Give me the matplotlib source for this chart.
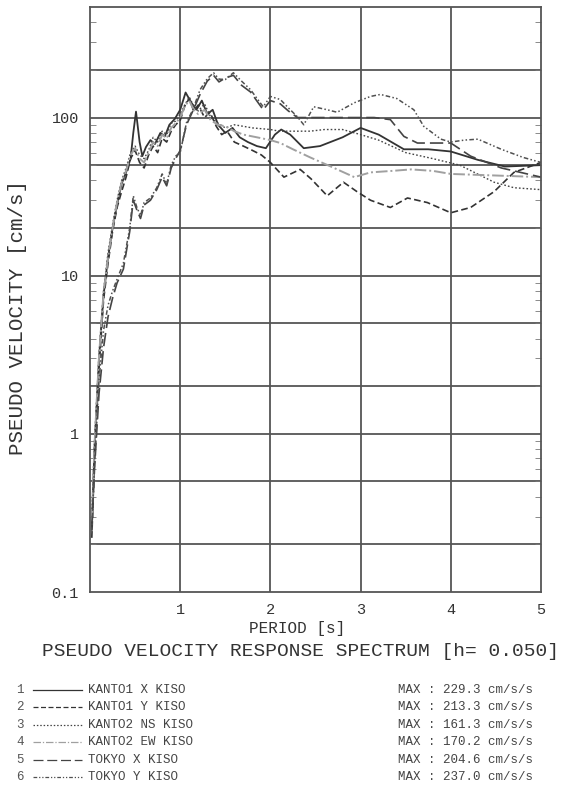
import matplotlib
matplotlib.use("Agg")
import matplotlib.pyplot as plt
from matplotlib.lines import Line2D
from matplotlib.ticker import FixedLocator, NullFormatter

# period [s] / pseudo velocity [cm/s]
t_kanto1_x = [0.02, 0.05, 0.1, 0.15, 0.2, 0.25, 0.3, 0.35, 0.4, 0.45, 0.48, 0.51, 0.55, 0.58,
              0.62, 0.67, 0.72, 0.78, 0.83, 0.88, 0.94, 1.0, 1.06, 1.12, 1.18, 1.24, 1.3, 1.36,
              1.42, 1.5, 1.58, 1.66, 1.75, 1.85, 1.95, 2.05, 2.12, 2.22, 2.37, 2.55, 2.8, 3.0,
              3.2, 3.48, 3.75, 4.0, 4.3, 4.6, 5.0]
v_kanto1_x = [0.25, 0.8, 3.0, 7.5, 13, 20, 28, 38, 45, 55, 80, 109, 70, 57,
              65, 72, 68, 80, 76, 90, 98, 112, 144, 125, 112, 128, 105, 112,
              90, 80, 86, 75, 70, 66, 64, 78, 84, 78, 64, 66, 75, 86,
              78, 63, 63, 61, 54, 49, 50]

t_kanto1_y = [0.02, 0.05, 0.1, 0.15, 0.2, 0.25, 0.3, 0.35, 0.4, 0.45, 0.5, 0.55, 0.6, 0.65,
              0.7, 0.75, 0.8, 0.85, 0.9, 0.95, 1.0, 1.05, 1.1, 1.15, 1.2, 1.27, 1.33, 1.4,
              1.46, 1.52, 1.6, 1.7, 1.8, 1.9, 2.0, 2.15, 2.33, 2.45, 2.63, 2.81, 2.96, 3.11,
              3.33, 3.52, 3.74, 4.0, 4.22, 4.48, 4.7, 5.0]
v_kanto1_y = [0.22, 0.7, 2.6, 7, 12, 19, 27, 34, 42, 55, 62, 52, 48, 58,
              66, 60, 74, 70, 82, 90, 96, 118, 132, 110, 120, 100, 108, 88,
              78, 82, 70, 66, 62, 58, 52, 42, 47, 41, 32, 39, 34, 30,
              27, 31, 29, 25, 27, 34, 45, 52]

t_kanto2_ns = [0.02, 0.05, 0.1, 0.15, 0.2, 0.25, 0.3, 0.35, 0.4, 0.45, 0.5, 0.55, 0.6, 0.65,
               0.7, 0.75, 0.8, 0.85, 0.9, 0.95, 1.0, 1.05, 1.1, 1.15, 1.2, 1.27, 1.34, 1.42,
               1.5, 1.6, 1.7, 1.8, 1.9, 2.0, 2.1, 2.25, 2.44, 2.6, 2.8, 3.0, 3.2, 3.5,
               3.8, 4.1, 4.48, 4.7, 5.0]
v_kanto2_ns = [0.3, 0.9, 3.2, 8, 14, 21, 30, 40, 48, 60, 66, 58, 55, 62,
               75, 70, 82, 78, 92, 95, 105, 120, 135, 118, 110, 122, 100, 92,
               86, 90, 88, 86, 85, 84, 82, 82, 82, 84, 84, 78, 72, 60,
               55, 50, 39, 36, 35]

t_kanto2_ew = [0.02, 0.05, 0.1, 0.15, 0.2, 0.25, 0.3, 0.35, 0.4, 0.45, 0.5, 0.55, 0.6, 0.65,
               0.7, 0.75, 0.8, 0.85, 0.9, 0.95, 1.0, 1.05, 1.1, 1.15, 1.2, 1.27, 1.34, 1.42,
               1.5, 1.6, 1.7, 1.8, 1.9, 2.0, 2.11, 2.25, 2.44, 2.67, 2.93, 3.11, 3.35, 3.56,
               3.8, 4.0, 4.5, 5.0]
v_kanto2_ew = [0.28, 0.85, 3.1, 7.8, 13, 20, 29, 39, 46, 58, 64, 55, 52, 60,
               70, 66, 78, 74, 86, 92, 100, 118, 128, 112, 105, 112, 96, 90,
               88, 82, 78, 76, 74, 72, 69, 63, 56, 49, 42, 45, 46, 47,
               46, 44, 43, 42]

t_tokyo_x = [0.02, 0.05, 0.1, 0.15, 0.2, 0.25, 0.3, 0.37, 0.44, 0.48, 0.52, 0.56, 0.6, 0.67,
             0.74, 0.8, 0.85, 0.9, 0.95, 1.0, 1.07, 1.14, 1.22, 1.3, 1.37, 1.43, 1.5, 1.59,
             1.68, 1.78, 1.86, 1.92, 2.0, 2.11, 2.2, 2.3, 2.45, 2.6, 2.8, 3.0, 3.15, 3.33,
             3.48, 3.63, 3.8, 4.0, 4.22, 4.56, 5.0]
v_tokyo_x = [0.25, 0.6, 1.8, 3.5, 5.5, 7.2, 9, 11, 19, 30, 26, 23, 28, 30,
             35, 42, 37, 48, 55, 62, 90, 110, 140, 170, 185, 168, 178, 185,
             160, 145, 125, 112, 128, 122, 110, 100, 100, 100, 100, 100, 100, 97,
             76, 69, 69, 69, 57, 48, 42]

t_tokyo_y = [0.02, 0.05, 0.1, 0.15, 0.2, 0.25, 0.3, 0.37, 0.44, 0.48, 0.52, 0.56, 0.6, 0.67,
             0.74, 0.8, 0.85, 0.9, 0.95, 1.0, 1.07, 1.14, 1.22, 1.3, 1.37, 1.43, 1.5, 1.59,
             1.68, 1.78, 1.86, 1.92, 2.0, 2.11, 2.2, 2.3, 2.37, 2.48, 2.63, 2.74, 2.93, 3.11,
             3.22, 3.4, 3.59, 3.7, 3.89, 4.0, 4.15, 4.3, 4.56, 4.8, 5.0]
v_tokyo_y = [0.24, 0.65, 2.2, 4.5, 6.5, 8, 9.5, 12, 20, 32, 27, 24, 29, 31,
             36, 44, 38, 50, 57, 60, 93, 112, 150, 176, 192, 175, 174, 192,
             170, 150, 130, 117, 136, 130, 115, 101, 90, 117, 112, 108, 124, 136,
             140, 132, 112, 88, 73, 70, 72, 73, 63, 56, 52]

labels = ["KANTO1 X KISO", "KANTO1 Y KISO", "KANTO2 NS KISO",
          "KANTO2 EW KISO", "TOKYO X KISO", "TOKYO Y KISO"]
max_values = [229.3, 213.3, 161.3, 170.2, 204.6, 237.0]

x_ticks = [1, 2, 3, 4, 5]
y_ticks = [0.1, 1, 10, 100]
y_grid = [0.2, 0.5, 1, 2, 5, 10, 20, 50, 100, 200]

series = [
    (t_kanto1_x, v_kanto1_x),
    (t_kanto1_y, v_kanto1_y),
    (t_kanto2_ns, v_kanto2_ns),
    (t_kanto2_ew, v_kanto2_ew),
    (t_tokyo_x, v_tokyo_x),
    (t_tokyo_y, v_tokyo_y),
]
styles = [
    dict(color="#333333", lw=1.3, dashes=()),
    dict(color="#333333", lw=1.2, dashes=(4, 2)),
    dict(color="#444444", lw=1.0, dashes=(1.2, 1.5)),
    dict(color="#a0a0a0", lw=1.4, dashes=(6, 1.5, 1, 1.5)),
    dict(color="#444444", lw=1.2, dashes=(8, 3)),
    dict(color="#505050", lw=1.1, dashes=(3, 1.5, 1, 1.5, 1, 1.5)),
]

FONT = "Liberation Mono"
TXT = "#333333"
W, H = 562, 787

fig = plt.figure(figsize=(W / 100, H / 100), dpi=100)
fig.patch.set_facecolor("white")
ax = fig.add_axes([90 / W, 1 - 592 / H, 451 / W, 585 / H])

for (t, v), st in zip(series, styles):
    ax.plot(t, v, color=st["color"], lw=st["lw"], dashes=st["dashes"])

ax.set_yscale("log")
ax.set_xlim(0, 5)
ax.set_ylim(0.1, 500)

for yv in y_grid:
    ax.axhline(yv, color="#555555", lw=1.3, zorder=0)
for xv in x_ticks[:-1]:
    ax.axvline(xv, color="#555555", lw=1.3, zorder=0)

ax.set_xticks(x_ticks)
ax.set_xticklabels([str(x) for x in x_ticks])
ax.set_yticks(y_ticks)
ax.set_yticklabels(["0.1", "1", "10", "100"])
minor = [m * 10.0 ** e for e in range(-1, 3) for m in range(2, 10)]
ax.yaxis.set_minor_locator(FixedLocator([m for m in minor if m < 500]))
ax.yaxis.set_minor_formatter(NullFormatter())
ax.tick_params(axis="both", which="major", length=0, labelsize=11,
               labelcolor=TXT, pad=8)
ax.tick_params(axis="y", which="minor", direction="in", length=4,
               width=0.6, color="#777777", left=True, right=True)
for lab in ax.get_xticklabels() + ax.get_yticklabels():
    lab.set_fontfamily(FONT)

for sp in ax.spines.values():
    sp.set_color("#555555")
    sp.set_linewidth(1.3)

ax.set_ylabel("PSEUDO VELOCITY [cm/s]", fontsize=15, family=FONT, color=TXT)
ax.yaxis.set_label_coords(-0.14, 0.47)

fig.text(297 / W, 1 - 628 / H, "PERIOD [s]", ha="center", va="center",
         fontsize=11.5, family=FONT, color=TXT)
fig.text(42 / W, 1 - 652 / H, "PSEUDO VELOCITY RESPONSE SPECTRUM [h= 0.050]",
         ha="left", va="center", fontsize=14, family=FONT, color=TXT)

row_y = [690 + 17.4 * i for i in range(6)]
for i, (lab, mx, st) in enumerate(zip(labels, max_values, styles)):
    y = 1 - row_y[i] / H
    fig.text(20 / W, y, str(i + 1), ha="center", va="center",
             fontsize=9, family=FONT, color="#555555")
    fig.add_artist(Line2D([33 / W, 82 / W], [y, y], color=st["color"],
                          lw=0.9, dashes=st["dashes"]))
    fig.text(88 / W, y, lab, ha="left", va="center",
             fontsize=9, family=FONT, color="#444444")
    fig.text(398 / W, y, f"MAX : {mx:.1f} cm/s/s", ha="left", va="center",
             fontsize=9, family=FONT, color="#444444")

fig.savefig("out.png", dpi=100)
